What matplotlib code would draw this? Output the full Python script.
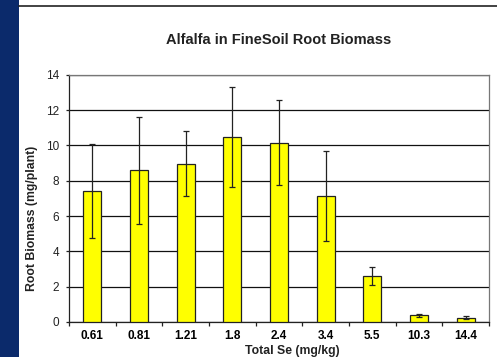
import matplotlib.pyplot as plt
import numpy as np
from matplotlib.patches import Rectangle
from matplotlib.lines import Line2D

plt.rcParams['font.family'] = ['Liberation Sans', 'DejaVu Sans']

se_levels = ['0.61', '0.81', '1.21', '1.8', '2.4', '3.4', '5.5', '10.3', '14.4']
biomass = [7.43, 8.59, 8.97, 10.48, 10.15, 7.13, 2.59, 0.38, 0.25]
biomass_err = [2.65, 3.03, 1.84, 2.85, 2.4, 2.56, 0.52, 0.08, 0.1]

fig = plt.figure(figsize=(4.97, 3.57), dpi=100)

# slide decoration: navy side band and rule across the top
fig.patches.append(Rectangle((0, 0), 19 / 497, 1, transform=fig.transFigure,
                             facecolor='#0b2a6b', edgecolor='none', zorder=0))
fig.lines.append(Line2D([19 / 497, 1], [1 - 6 / 357, 1 - 6 / 357],
                        transform=fig.transFigure, color='#222222', lw=1.2))

ax = fig.add_axes([69 / 497, 1 - 322 / 357, 420 / 497, (322 - 74.7) / 357])
x = np.arange(len(se_levels))
ax.bar(x, biomass, width=0.39, color='#ffff00', edgecolor='#222222', linewidth=0.9,
       zorder=3)
ax.errorbar(x, biomass, yerr=biomass_err, fmt='none', ecolor='#222222',
            elinewidth=0.9, capsize=2.5, capthick=0.9, zorder=4)

ax.set_xlim(-0.5, len(se_levels) - 0.5)
ax.set_ylim(0, 14)
ax.set_yticks(range(0, 15, 2))
ax.yaxis.grid(True, color='#111111', linewidth=0.9, zorder=1)
ax.set_axisbelow(True)

ax.set_xticks(x)
ax.set_xticklabels(se_levels, fontweight='bold', fontsize=8.5)
ax.set_xticks(np.arange(-0.5, len(se_levels)), minor=True)
ax.tick_params(axis='x', which='major', length=0, pad=6)
ax.tick_params(axis='x', which='minor', length=3, width=0.9, color='#222222')
ax.tick_params(axis='y', length=2.5, width=0.9, labelsize=8.5, pad=4.5, colors='#222222')

for side in ('top', 'right'):
    ax.spines[side].set_color('#777777')
    ax.spines[side].set_linewidth(0.9)
for side in ('left', 'bottom'):
    ax.spines[side].set_color('#222222')
    ax.spines[side].set_linewidth(0.9)

ax.set_xlabel('Total Se (mg/kg)', fontweight='bold', fontsize=8.8, color='#222222')
ax.xaxis.set_label_coords(0.532, -0.095)
ax.set_ylabel('Root Biomass (mg/plant)', fontweight='bold', fontsize=8.8,
              color='#222222')
ax.yaxis.set_label_coords(-0.074, 0.42)
fig.text(279 / 497, 1 - 40 / 357, 'Alfalfa in FineSoil Root Biomass',
         ha='center', va='center', fontweight='bold', fontsize=10.5, color='#222222')

fig.savefig('out.png', dpi=100)
